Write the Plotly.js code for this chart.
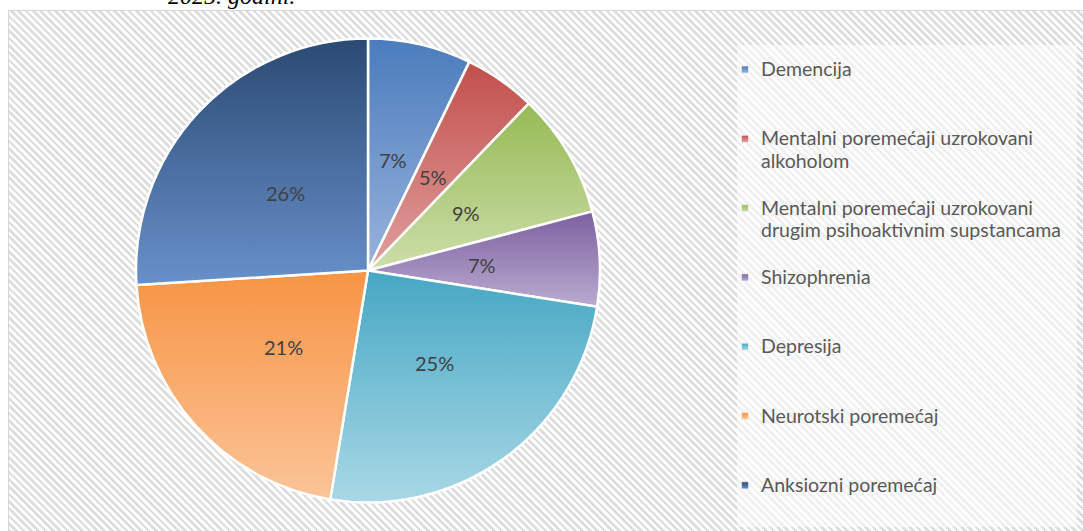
<!DOCTYPE html>
<html><head><meta charset="utf-8">
<script src="https://cdn.plot.ly/plotly-3.0.1.min.js"></script>
<style>
html,body{margin:0;padding:0;background:#fff;}
#wrap{position:relative;width:1083px;height:531px;overflow:hidden;}
#frame{position:absolute;left:8px;top:10px;width:1090px;height:540px;border:1px solid #d6d6d6;
background:repeating-linear-gradient(45deg,#ffffff 0px,#ffffff 2.6px,#dedede 2.6px,#dedede 5.2px);}
#chart{position:absolute;left:0;top:0;width:1083px;height:531px;}
</style></head>
<body><div id="wrap"><div id="frame"></div><div id="chart"></div></div>
<script>
const categories = [
  'Demencija',
  'Mentalni poremećaji uzrokovani<br>alkoholom',
  'Mentalni poremećaji uzrokovani<br>drugim psihoaktivnim supstancama',
  'Shizophrenia',
  'Depresija',
  'Neurotski poremećaj',
  'Anksiozni poremećaj'
];
const values = [7.2, 5.0, 8.7, 6.6, 25.1, 21.4, 26.0];
const topColors    = ['#4a7cbd', '#c24f4c', '#97ba54', '#7c609f', '#45a7c3', '#f79444', '#2b4a73'];
const bottomColors = ['#98b3dc', '#e0a09e', '#ccdeaa', '#baabd0', '#a9d8e6', '#fbc498', '#6890ca'];
const topText = '2025. godini.';

const W = 1083, H = 531;
const pie = {left: 136, right: 600, top: 38, bottom: 503};
const cx = (pie.left + pie.right) / 2, cy = (pie.top + pie.bottom) / 2;
const R = Math.min(pie.right - pie.left, pie.bottom - pie.top) / 2;

const total = values.reduce((a, b) => a + b, 0);
const legendLabels = categories.map((c, idx) => {
  const parts = c.split('<br>');
  let s = parts.map(p => '<span style="font-size:19.5px">' + p + '</span>').join('<br>');
  if (idx < categories.length - 1) {
    for (let i = parts.length; i < 3; i++) s += '<br> ';
  }
  return s;
});

const annotations = [];
let cum = 0;
values.forEach(v => {
  const mid = (cum + v / 2) / total * 2 * Math.PI;
  cum += v;
  const px = cx + 0.49 * R * Math.sin(mid);
  const py = cy - 0.49 * R * Math.cos(mid);
  annotations.push({
    xref: 'paper', yref: 'paper', x: px / W, y: 1 - py / H,
    xanchor: 'center', yanchor: 'middle',
    text: Math.round(v / total * 100) + '%', showarrow: false,
    font: {family: 'Lato', size: 20, color: '#404040'}
  });
});
annotations.push({
  xref: 'paper', yref: 'paper', x: 231 / W, y: 1, xanchor: 'center', yanchor: 'middle', yshift: 4,
  text: '<i>' + topText + '</i>', showarrow: false,
  font: {family: 'Liberation Serif', size: 24, color: '#000'}
});

const data = [{
  type: 'pie',
  labels: legendLabels,
  values: values,
  sort: false,
  direction: 'clockwise',
  rotation: 0,
  textinfo: 'none',
  hoverinfo: 'none',
  marker: {colors: topColors, line: {color: '#ffffff', width: 2.5}},
  domain: {x: [pie.left / W, pie.right / W], y: [1 - pie.bottom / H, 1 - pie.top / H]}
}];

const layout = {
  width: W, height: H,
  margin: {l: 0, r: 0, t: 0, b: 0},
  paper_bgcolor: 'rgba(0,0,0,0)',
  plot_bgcolor: 'rgba(0,0,0,0)',
  showlegend: true,
  legend: {
    x: 721 / W, xanchor: 'left', y: 1 - 52 / H, yanchor: 'top',
    font: {family: 'Lato', size: 17, color: '#595959'},
    valign: 'top', bgcolor: 'rgba(0,0,0,0)', itemwidth: 30, traceorder: 'normal'
  },
  shapes: [{
    type: 'rect', xref: 'paper', yref: 'paper', layer: 'below',
    x0: 737 / W, x1: 1077 / W, y0: 1 - 527 / H, y1: 1 - 45 / H,
    fillcolor: 'rgba(255,255,255,0.55)', line: {width: 0}
  }],
  annotations: annotations
};

Plotly.newPlot('chart', data, layout, {displayModeBar: false, staticPlot: true}).then(gd => {
  const svg = gd.querySelector('svg.main-svg');
  const ns = 'http://www.w3.org/2000/svg';
  let defs = svg.querySelector('defs');
  if (!defs) { defs = document.createElementNS(ns, 'defs'); svg.insertBefore(defs, svg.firstChild); }
  topColors.forEach((c, i) => {
    const g = document.createElementNS(ns, 'linearGradient');
    g.setAttribute('id', 'grad' + i);
    g.setAttribute('x1', '0'); g.setAttribute('y1', '0');
    g.setAttribute('x2', '0'); g.setAttribute('y2', '1');
    [[0, c], [1, bottomColors[i]]].forEach(([o, col]) => {
      const s = document.createElementNS(ns, 'stop');
      s.setAttribute('offset', o); s.setAttribute('stop-color', col);
      g.appendChild(s);
    });
    defs.appendChild(g);
  });
  gd.querySelectorAll('g.slice path.surface').forEach((p, i) => {
    p.style.fill = 'url(#grad' + i + ')';
  });
  gd.querySelectorAll('g.legendpoints path.legendpie').forEach((p, i) => {
    p.setAttribute('d', 'M7.5,3.5H0.5V-3.5H7.5Z');
    p.style.fill = 'url(#grad' + i + ')';
    p.style.strokeWidth = '0.5px';
  });
});
</script>
</body></html>
